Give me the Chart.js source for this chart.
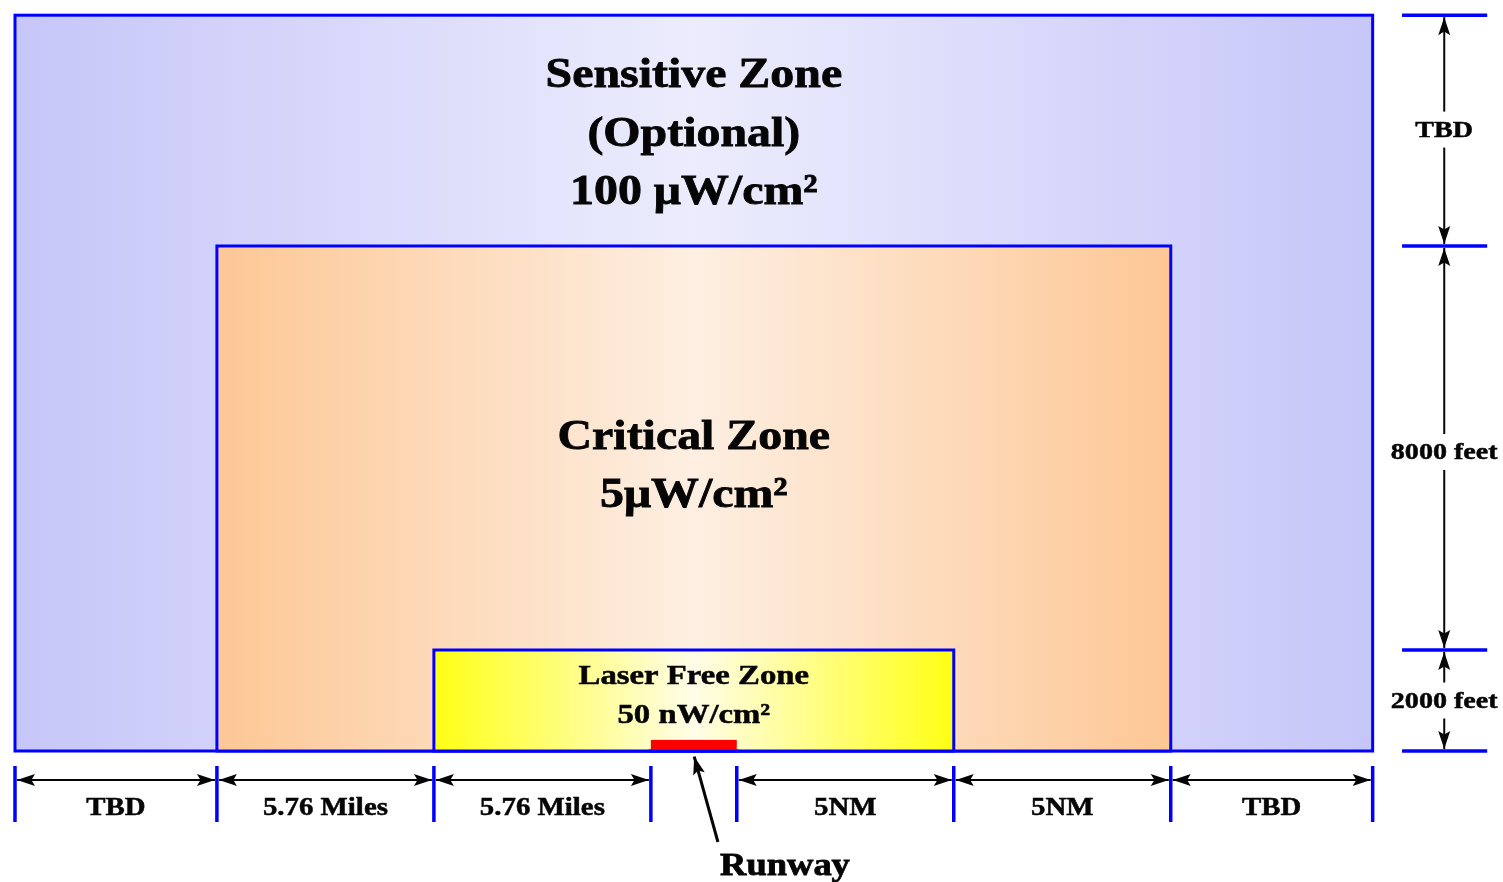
<!DOCTYPE html>
<html>
<head>
<meta charset="utf-8">
<script src="https://cdn.jsdelivr.net/npm/chart.js@4.4.1/dist/chart.umd.min.js"></script>
<style>
  html, body { margin: 0; padding: 0; background: #ffffff; }
  canvas { display: block; }
</style>
</head>
<body>
<canvas id="zones" width="1503" height="882"></canvas>
<script>
// horizontal segments along the ground (schematic miles)
const segmentLabels = ['TBD', '5.76 Miles', '5.76 Miles', '', '5NM', '5NM', 'TBD'];
const segmentWidths = [5.36, 5.76, 5.76, 2.28, 5.76, 5.76, 5.36];

// vertical layers (feet)
const layerLabels = ['2000 feet', '8000 feet', 'TBD'];
const layerHeights = [2000, 8000, 4570];

// zones, outer to inner
const zoneNames = ['Sensitive Zone', 'Critical Zone', 'Laser Free Zone'];
const zoneNotes = ['(Optional)', '', ''];
const zoneLevels = ['100 \u03bcW/cm\u00b2', '5\u03bcW/cm\u00b2', '50 nW/cm\u00b2'];
const zoneFirstSegment = [0, 1, 2];
const zoneLastSegment = [6, 5, 4];
const zoneLayers = [3, 2, 1];

// runway occupies the gap segment
const runwayLabel = 'Runway';
const runwaySegment = 3;
const runwayHeight = 220;

// cumulative edges
const xEdges = [0];
segmentWidths.forEach(w => xEdges.push(xEdges[xEdges.length - 1] + w));
const yEdges = [0];
layerHeights.forEach(h => yEdges.push(yEdges[yEdges.length - 1] + h));

const zoneColors = [
  ['#c6c6f9', '#ececfd'],
  ['#fdc795', '#fdefe2'],
  ['#ffff14', '#fffde8']
];
const BLUE = '#0000ff';
const INK = '#050505';
const SERIF = '"Liberation Serif", "Times New Roman", serif';

// draw text stretched horizontally (the source art is a bit wide)
function wideText(ctx, s, x, y, size, stretch) {
  ctx.save();
  ctx.font = 'bold ' + size + 'px ' + SERIF;
  ctx.translate(x, y);
  ctx.scale(stretch, 1);
  ctx.fillText(s, 0, 0);
  ctx.strokeStyle = INK;
  ctx.lineWidth = size > 30 ? 0.8 : 0.5;
  ctx.strokeText(s, 0, 0);
  ctx.restore();
}

function arrowHead(ctx, x1, y1, x2, y2) {
  const a = Math.atan2(y2 - y1, x2 - x1);
  const len = 18, hw = 6;
  ctx.beginPath();
  ctx.moveTo(x2, y2);
  ctx.lineTo(x2 - len * Math.cos(a) + hw * Math.sin(a), y2 - len * Math.sin(a) - hw * Math.cos(a));
  ctx.lineTo(x2 - len * Math.cos(a) * 0.8, y2 - len * Math.sin(a) * 0.8);
  ctx.lineTo(x2 - len * Math.cos(a) - hw * Math.sin(a), y2 - len * Math.sin(a) + hw * Math.cos(a));
  ctx.closePath();
  ctx.fill();
}

function arrow(ctx, x1, y1, x2, y2) {
  ctx.beginPath();
  ctx.moveTo(x1, y1);
  ctx.lineTo(x2, y2);
  ctx.stroke();
  arrowHead(ctx, x1, y1, x2, y2);
}

const zonePlugin = {
  id: 'zonePlugin',
  beforeDatasetsDraw(chart) {
    const ctx = chart.ctx;
    const xs = chart.scales.x, ys = chart.scales.y;
    const px = v => xs.getPixelForValue(v);
    const py = v => ys.getPixelForValue(v);
    ctx.save();

    // zone rectangles with horizontal gradient
    zoneNames.forEach((name, i) => {
      const l = px(xEdges[zoneFirstSegment[i]]);
      const r = px(xEdges[zoneLastSegment[i] + 1]);
      const t = py(yEdges[zoneLayers[i]]);
      const b = py(0);
      const g = ctx.createLinearGradient(l, 0, r, 0);
      g.addColorStop(0, zoneColors[i][0]);
      g.addColorStop(0.5, zoneColors[i][1]);
      g.addColorStop(1, zoneColors[i][0]);
      ctx.fillStyle = g;
      ctx.fillRect(l, t, r - l, b - t);
      ctx.strokeStyle = BLUE;
      ctx.lineWidth = 3;
      ctx.strokeRect(l, t, r - l, b - t);
    });

    // zone labels
    ctx.fillStyle = INK;
    ctx.textAlign = 'center';
    ctx.textBaseline = 'middle';
    const labelSpec = [
      { size: 42, first: 61, gap: 58.5, stretch: 1.14 },
      { size: 42, first: 192, gap: 58, stretch: 1.14 },
      { size: 28, first: 27, gap: 39, stretch: 1.17 }
    ];
    zoneNames.forEach((name, i) => {
      const cx = px((xEdges[zoneFirstSegment[i]] + xEdges[zoneLastSegment[i] + 1]) / 2);
      const t = py(yEdges[zoneLayers[i]]);
      const sp = labelSpec[i];
      const lines = [name, zoneNotes[i], zoneLevels[i]].filter(s => s);
      lines.forEach((s, k) => wideText(ctx, s, cx, t + sp.first + k * sp.gap, sp.size, sp.stretch));
    });

    // runway
    ctx.fillStyle = '#ff0000';
    const rl = px(xEdges[runwaySegment]), rr = px(xEdges[runwaySegment + 1]);
    ctx.fillRect(rl, py(runwayHeight), rr - rl, py(0) - py(runwayHeight) - 1.5);
    ctx.strokeStyle = BLUE;
    ctx.lineWidth = 3;
    ctx.beginPath();
    ctx.moveTo(rl - 2, py(0));
    ctx.lineTo(rr + 2, py(0));
    ctx.stroke();

    ctx.strokeStyle = INK;
    ctx.fillStyle = INK;
    ctx.lineWidth = 3;
    arrow(ctx, px(18.66), py(-1802), px(18.03), py(-110));
    wideText(ctx, runwayLabel, px(20.44), py(-2290), 32, 1.14);

    // bottom dimension line
    ctx.strokeStyle = BLUE;
    ctx.lineWidth = 3.5;
    xEdges.forEach(x => {
      ctx.beginPath();
      ctx.moveTo(px(x), py(-297));
      ctx.lineTo(px(x), py(-1406));
      ctx.stroke();
    });
    ctx.strokeStyle = INK;
    ctx.fillStyle = INK;
    ctx.lineWidth = 2;
    segmentLabels.forEach((lab, i) => {
      if (!lab) return;
      const a = px(xEdges[i]) + 2, b = px(xEdges[i + 1]) - 2;
      const y = py(-574);
      ctx.beginPath();
      ctx.moveTo(a, y);
      ctx.lineTo(b, y);
      ctx.stroke();
      arrowHead(ctx, b, y, a, y);
      arrowHead(ctx, a, y, b, y);
      wideText(ctx, lab, (a + b) / 2, py(-1130), 26, 1.11);
    });

    // right dimension line
    ctx.strokeStyle = BLUE;
    ctx.lineWidth = 3.5;
    yEdges.forEach(y => {
      ctx.beginPath();
      ctx.moveTo(px(36.82), py(y));
      ctx.lineTo(px(39.08), py(y));
      ctx.stroke();
    });
    ctx.strokeStyle = INK;
    ctx.fillStyle = INK;
    ctx.lineWidth = 2;
    const ax = px(37.94);
    const labelNudge = [0, 4, -1];
    layerLabels.forEach((lab, i) => {
      const b = py(yEdges[i]) - 2, t = py(yEdges[i + 1]) + 2;
      const mid = (t + b) / 2 + labelNudge[i];
      const gap = 18;
      ctx.beginPath();
      ctx.moveTo(ax, mid - gap);
      ctx.lineTo(ax, t);
      ctx.stroke();
      arrowHead(ctx, ax, mid - gap, ax, t);
      ctx.beginPath();
      ctx.moveTo(ax, mid + gap);
      ctx.lineTo(ax, b);
      ctx.stroke();
      arrowHead(ctx, ax, mid + gap, ax, b);
      wideText(ctx, lab, ax, mid + 1, 24, 1.17);
    });

    ctx.restore();
  }
};

new Chart(document.getElementById('zones').getContext('2d'), {
  type: 'scatter',
  data: { datasets: [{ data: [], pointRadius: 0 }] },
  options: {
    responsive: false,
    animation: false,
    layout: { padding: 0 },
    plugins: { legend: { display: false }, tooltip: { enabled: false } },
    scales: {
      x: { type: 'linear', min: -0.398, max: 39.5, display: false },
      y: { type: 'linear', min: -2594, max: 14871, display: false }
    }
  },
  plugins: [zonePlugin]
});
</script>
</body>
</html>
